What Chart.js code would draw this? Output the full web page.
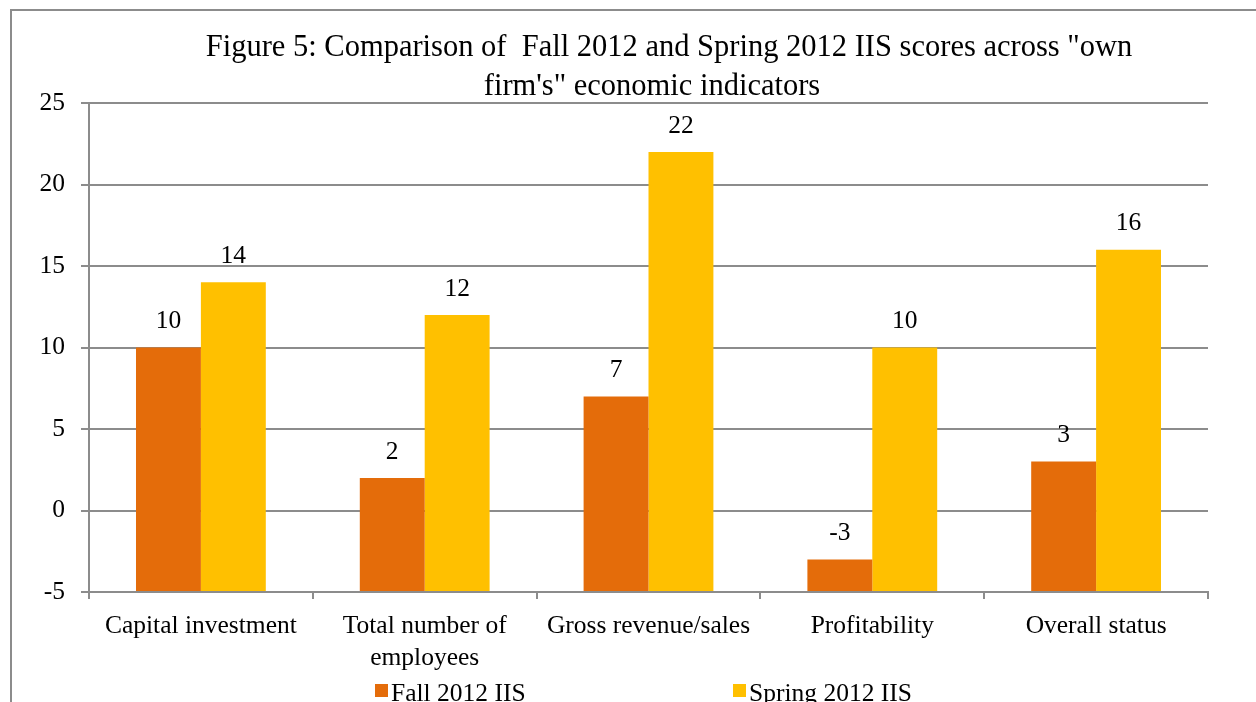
<!DOCTYPE html>
<html>
<head>
<meta charset="utf-8">
<script src="https://cdn.jsdelivr.net/npm/chart.js@4"></script>
<style>
  html, body { margin: 0; padding: 0; background: #fff; overflow: hidden; }
  .frame {
    position: absolute; left: 10px; top: 9px;
    width: 1400px; height: 800px;
    border: 2px solid #8c8c8c;
  }
  #chart { position: absolute; left: 0; top: 0; }
</style>
</head>
<body>
<div class="frame"></div>
<canvas id="chart" width="1256" height="702"></canvas>
<script>
// data
const titleLines = [
  'Figure 5: Comparison of  Fall 2012 and Spring 2012 IIS scores across "own',
  'firm\'s" economic indicators'
];
const categories = [
  "Capital investment",
  ["Total number of", "employees"],
  "Gross revenue/sales",
  "Profitability",
  "Overall status"
];
const seriesNames = ["Fall 2012 IIS", "Spring 2012 IIS"];
const fallScores = [10, 2, 7, -3, 3];
const springScores = [14, 12, 22, 10, 16];
const seriesColors = ["#E46C0A", "#FFC000"];
const yMin = -5;
const yMax = 25;
const yStep = 5;

const serif = "'Liberation Serif', 'Times New Roman', serif";
const gridColor = "#8c8c8c";

// title, drawn line by line like the original wrap
const titlePlugin = {
  id: "wrappedTitle",
  afterDraw(chart) {
    const ctx = chart.ctx;
    ctx.save();
    ctx.font = "30.5px " + serif;
    ctx.fillStyle = "#000";
    ctx.textAlign = "center";
    ctx.textBaseline = "alphabetic";
    ctx.fillText(titleLines[0], 669, 56);
    ctx.fillText(titleLines[1], 652, 95);
    ctx.restore();
  }
};

// value labels above each bar
const valueLabels = {
  id: "valueLabels",
  afterDatasetsDraw(chart) {
    const ctx = chart.ctx;
    ctx.save();
    ctx.font = "25.5px " + serif;
    ctx.fillStyle = "#000";
    ctx.textAlign = "center";
    ctx.textBaseline = "middle";
    chart.data.datasets.forEach((ds, i) => {
      chart.getDatasetMeta(i).data.forEach((bar, j) => {
        const top = Math.min(bar.y, bar.base);
        ctx.fillText(String(ds.data[j]), bar.x, top - 26);
      });
    });
    ctx.restore();
  }
};

// legend along the bottom edge
const bottomLegend = {
  id: "bottomLegend",
  afterDraw(chart) {
    const ctx = chart.ctx;
    const starts = [375, 733];
    ctx.save();
    ctx.font = "25.5px " + serif;
    ctx.textBaseline = "alphabetic";
    ctx.textAlign = "left";
    chart.data.datasets.forEach((ds, i) => {
      ctx.fillStyle = ds.backgroundColor;
      ctx.fillRect(starts[i], 684, 13, 13);
      ctx.fillStyle = "#000";
      ctx.fillText(ds.label, starts[i] + 16, 701);
    });
    ctx.restore();
  }
};

new Chart(document.getElementById("chart"), {
  type: "bar",
  data: {
    labels: categories,
    datasets: [
      {
        label: seriesNames[0],
        data: fallScores,
        backgroundColor: seriesColors[0],
        base: yMin
      },
      {
        label: seriesNames[1],
        data: springScores,
        backgroundColor: seriesColors[1],
        base: yMin
      }
    ]
  },
  options: {
    responsive: false,
    animation: false,
    events: [],
    categoryPercentage: 0.58,
    barPercentage: 1,
    layout: { padding: { top: 103, right: 48, bottom: 0, left: 0 } },
    plugins: {
      legend: { display: false },
      title: { display: false },
      tooltip: { enabled: false }
    },
    scales: {
      x: {
        offset: true,
        afterFit: (s) => { s.height = 110; },
        grid: {
          offset: true,
          drawOnChartArea: false,
          drawTicks: true,
          tickLength: 7,
          color: gridColor,
          lineWidth: 2
        },
        border: { display: true, color: gridColor, width: 2 },
        ticks: {
          color: "#000",
          padding: 11,
          maxRotation: 0,
          autoSkip: false,
          font: { family: serif, size: 25.5, lineHeight: 1.25 }
        }
      },
      y: {
        min: yMin,
        max: yMax,
        afterFit: (s) => { s.width = 89; },
        grid: {
          color: gridColor,
          lineWidth: 2,
          drawTicks: true,
          tickLength: 8
        },
        border: { display: true, color: gridColor, width: 2 },
        ticks: {
          stepSize: yStep,
          color: "#000",
          padding: 16,
          font: { family: serif, size: 25.5 }
        }
      }
    }
  },
  plugins: [titlePlugin, valueLabels, bottomLegend]
});
</script>
</body>
</html>
